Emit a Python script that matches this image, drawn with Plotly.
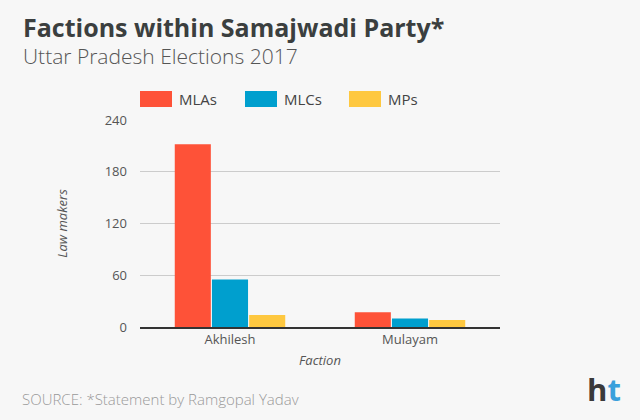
import plotly.graph_objects as go

factions = ["Akhilesh", "Mulayam"]
series_names = ["MLAs", "MLCs", "MPs"]
mlas = [212, 17]
mlcs = [55, 10]
mps = [14, 8]
series_values = [mlas, mlcs, mps]
colors = ["#FE5238", "#009FCE", "#FEC840"]
y_ticks = [0, 60, 120, 180, 240]

BG = "#F7F7F7"
FONT = "Open Sans"

def px(x):
    return (x - 140) / 360

def py(y):
    return (327 - y) / 207

fig = go.Figure()
for name, vals, col in zip(series_names, series_values, colors):
    fig.add_trace(go.Bar(x=factions, y=vals, name=name, marker=dict(color=col, line=dict(width=0)),
                         showlegend=False, hoverinfo="x+y+name"))

fig.update_layout(
    width=640, height=420,
    paper_bgcolor=BG, plot_bgcolor=BG,
    margin=dict(l=140, r=140, t=120, b=93),
    barmode="group", bargap=0.38, bargroupgap=0.03,
    font=dict(family=FONT, color="#555555"),
    xaxis=dict(
        showgrid=False, showline=True, linecolor="#333333", linewidth=1.5,
        tickfont=dict(size=13, color="#555555"), ticks="",
        title=dict(text="<i>Faction</i>", font=dict(size=13, color="#555555"), standoff=9),
    ),
    yaxis=dict(
        range=[0, 240], tickvals=y_ticks, showgrid=True, gridcolor="#CCCCCC", gridwidth=1,
        zeroline=False, showline=False, ticks="", ticklabelstandoff=12,
        tickfont=dict(size=13, color="#555555"),
        title=dict(text="<i>Law makers</i>", font=dict(size=13, color="#555555"), standoff=34),
    ),
)

# Title and subtitle
fig.add_annotation(text="<b>Factions within Samajwadi Party*</b>", xref="paper", yref="paper",
                   x=px(21), y=py(8), xanchor="left", yanchor="top", showarrow=False,
                   font=dict(family=FONT, size=25, color="#3B3F3F"))
fig.add_annotation(text="Uttar Pradesh Elections 2017", xref="paper", yref="paper",
                   x=px(21), y=py(40), xanchor="left", yanchor="top", showarrow=False,
                   font=dict(family=FONT, size=21, color="#555555", weight=300))

# Custom legend
leg_x = [140, 245, 349]
for lx, name, col in zip(leg_x, series_names, colors):
    fig.add_shape(type="rect", xref="paper", yref="paper",
                  x0=px(lx), x1=px(lx + 32), y0=py(107), y1=py(91),
                  fillcolor=col, line=dict(width=0))
    fig.add_annotation(text=name, xref="paper", yref="paper",
                       x=px(lx + 37), y=py(99), xanchor="left", yanchor="middle",
                       showarrow=False, font=dict(family=FONT, size=15, color="#444444"))

# Source
fig.add_annotation(text="SOURCE: *Statement by Ramgopal Yadav", xref="paper", yref="paper",
                   x=px(20), y=py(399), xanchor="left", yanchor="middle", showarrow=False,
                   font=dict(family=FONT, size=15, color="#999999", weight=300))
# Logo
fig.add_annotation(text="<b><span style='color:#3A3A3A'>h</span><span style='color:#3AA0DC'>t</span></b>",
                   xref="paper", yref="paper", x=px(623), y=py(389),
                   xanchor="right", yanchor="middle", showarrow=False,
                   font=dict(family=FONT, size=31))

fig.write_html("out.html")
